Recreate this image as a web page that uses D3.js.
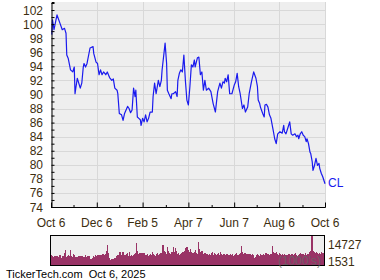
<!DOCTYPE html>
<html><head><meta charset="utf-8">
<script src="https://cdn.jsdelivr.net/npm/d3@7"></script>
<style>body{margin:0;background:#fff}svg{display:block}text{font-family:"Liberation Sans",Arial,sans-serif}</style>
</head><body><svg id="c" width="380" height="280"></svg>
<script>
const priceDates = ["2024-10-07","2024-10-08","2024-10-10","2024-10-14","2024-10-18","2024-10-21","2024-10-24","2024-10-26","2024-10-27","2024-10-29",
"2024-11-01","2024-11-04","2024-11-06","2024-11-07","2024-11-10","2024-11-14","2024-11-16","2024-11-18","2024-11-19","2024-11-21","2024-11-23","2024-11-27",
"2024-12-01","2024-12-02","2024-12-05","2024-12-07","2024-12-09","2024-12-11","2024-12-13","2024-12-15","2024-12-18","2024-12-20","2024-12-23","2024-12-26","2024-12-28","2024-12-30",
"2025-01-02","2025-01-03","2025-01-05","2025-01-08","2025-01-10","2025-01-12","2025-01-16","2025-01-18","2025-01-20","2025-01-22","2025-01-24","2025-01-26","2025-01-27","2025-01-29","2025-01-31",
"2025-02-02","2025-02-03","2025-02-05","2025-02-07","2025-02-09","2025-02-11","2025-02-13","2025-02-15","2025-02-18","2025-02-19","2025-02-21","2025-02-23","2025-02-26","2025-02-28",
"2025-03-02","2025-03-03","2025-03-05","2025-03-07","2025-03-09","2025-03-10","2025-03-12","2025-03-15","2025-03-16","2025-03-18","2025-03-21","2025-03-23","2025-03-24","2025-03-26","2025-03-28","2025-03-30",
"2025-04-01","2025-04-03","2025-04-05","2025-04-07","2025-04-09","2025-04-11","2025-04-13","2025-04-15","2025-04-16","2025-04-19","2025-04-21","2025-04-23","2025-04-25","2025-04-27","2025-04-29",
"2025-05-01","2025-05-04","2025-05-07","2025-05-10","2025-05-13","2025-05-16","2025-05-19","2025-05-21","2025-05-23","2025-05-25","2025-05-26","2025-05-28","2025-05-30",
"2025-06-01","2025-06-04","2025-06-07","2025-06-09","2025-06-11","2025-06-13","2025-06-15","2025-06-18","2025-06-20","2025-06-22","2025-06-25","2025-06-27","2025-06-30",
"2025-07-03","2025-07-06","2025-07-08","2025-07-09","2025-07-11","2025-07-12","2025-07-15","2025-07-17","2025-07-18","2025-07-20","2025-07-22","2025-07-24","2025-07-26","2025-07-29","2025-07-31",
"2025-08-02","2025-08-04","2025-08-07","2025-08-10","2025-08-12","2025-08-13","2025-08-15","2025-08-18","2025-08-20","2025-08-22","2025-08-24","2025-08-27","2025-08-29","2025-08-31",
"2025-09-01","2025-09-03","2025-09-05","2025-09-07","2025-09-09","2025-09-11","2025-09-12","2025-09-14","2025-09-16","2025-09-17","2025-09-19","2025-09-20","2025-09-22","2025-09-24","2025-09-26","2025-09-28","2025-09-29",
"2025-10-01","2025-10-03","2025-10-06"];
const priceValues = [98.5,100.6,99.2,101.3,100.1,99.2,99.4,98.7,95.6,95.1,
93.5,93.2,93.9,90.1,92.3,90.9,91.6,93.9,94.4,93.9,94.4,96.6,
96.8,95.8,94.6,94.4,92.8,93.5,92.8,93.2,92.8,93.2,92.4,92.0,92.2,90.9,
90.6,90.1,87.3,87.1,86.3,87.3,88.3,88.0,87.4,87.8,90.9,89.7,90.6,86.8,86.6,
86.4,85.6,86.6,86.1,87.1,86.1,86.6,87.5,87.5,89.7,91.6,90.1,92.0,91.1,
92.0,93.5,95.4,97.3,94.4,90.6,90.1,89.4,90.1,90.1,90.4,89.7,92.0,93.0,93.5,93.2,
95.6,92.0,89.2,88.5,91.1,94.2,93.9,94.9,93.9,95.2,95.3,92.8,93.2,90.6,92.0,
90.6,90.9,90.4,88.7,87.5,90.4,91.6,90.9,91.8,91.6,92.3,91.8,92.8,
90.1,90.1,91.3,91.8,93.0,91.1,90.1,88.0,88.5,87.5,88.2,90.1,91.8,
93.2,92.3,91.1,89.2,88.7,88.2,87.3,86.8,88.5,88.6,88.2,87.1,86.6,84.9,83.7,
83.0,84.4,84.7,84.5,85.6,84.7,84.4,85.4,86.1,84.4,84.2,84.4,84.0,84.2,
83.7,84.4,84.7,84.2,84.0,83.3,83.7,83.0,81.8,81.6,80.4,79.2,79.9,80.9,79.9,80.2,79.5,
78.8,78.3,77.3];
// daily volume (thousands), trading days from Oct 7 2024, five per week
const volumeStart = "2024-10-07";
const volumeValues = [
5200,4800,4300,4600,4100, 4400,3900,4200,5100,3800, 4500,4700,6200,7400,4300, 4800,5300,4600,7600,4400,
4200,5600,4900,4300,3900, 4100,4500,3800,4700,4400, 3900,4300,5000,4200,4600, 4800,4400,3200,2800,3500,
4600,4100,5200,4500,4900, 4700,5300,4400,5000,5600, 5100,5800,7200,10200,6300, 3600,2600,2800,3300,2900,
3800,3400,4600,4900,5200, 6500,5200,4600,6800,5100, 4900,5400,6100,4800,6700, 4600,5000,4700,5300,5500,
6200,11300,6900,5800,6100, 5400,5900,5200,6000,5100, 5000,5600,4800,5300,5800, 5200,6700,5500,5000,4700,
5400,5900,5100,5600,6300, 6000,10200,7100,6600,5500, 9300,7000,6200,5600,6400, 6800,8900,6500,8500,7200,
5800,6100,5300,5700,5900, 6400,5800,6900,8500,9200, 7800,6700,8100,6500,6000, 5900,6400,7600,6200,5400,
11800,8300,6700,7200,5800, 5600,6100,5300,5800,5000, 5400,4900,5900,6500,5200, 6300,5700,5100,5500,6000,
5300,6600,5600,5000,5400, 4500,5200,5800,4900,5300, 5600,5000,5400,4800,5200, 5500,6100,5300,5000,5700,
6200,9700,6500,5600,6000, 5200,5800,5400,5000,5600, 5100,5600,4900,3800,4200, 5000,5500,5200,4800,5400,
5300,4900,5600,5100,5900, 5000,5400,4700,5200,5600, 9700,6600,5900,6300,6800, 5800,5300,6000,5500,5100,
5400,4900,5700,5200,5000, 5300,5800,5100,4800,5500, 5000,5400,5900,5200,4600, 4900,5600,6100,5400,5800,
5500,5200,5900,5000,5600, 5800,6400,7100,14727,7300, 6500,5900,6800,6200,5600, 6000,5500,6700,5900,6300];
const yTickValues = [74,76,78,80,82,84,86,88,90,92,94,96,98,100,102];
const yMinorValues = [75,77,79,81,83,85,87,89,91,93,95,97,99,101,103];
const xTickDates = ["2024-10-06","2024-12-06","2025-02-05","2025-04-07","2025-06-07","2025-08-06","2025-10-06"];
const xTickLabels = ["Oct 6","Dec 6","Feb 5","Apr 7","Jun 7","Aug 6","Oct 6"];
const xMinorDates = ["2024-11-05","2025-01-05","2025-03-08","2025-05-08","2025-07-07","2025-09-06"];
const volumeLabels = ["14727","1531"];
const symbol = "CL";
const footer = "TickerTech.com  Oct 6, 2025";

const parse = d3.timeParse("%Y-%m-%d");
const svg = d3.select("#c");
const txt = "#3d2e0f";
const L = 51, R = 325, T = 2, B = 207;
const x = d3.scaleTime().domain([parse("2024-10-06"), parse("2025-10-06")]).range([L, R]);
const y = d3.scaleLinear().domain([74, 103.14]).range([B, T]);

svg.append("rect").attr("x", L).attr("y", T).attr("width", R - L).attr("height", B - T).attr("fill", "#eeeeee");
// grid
svg.append("g").selectAll("line").data(yTickValues.slice(1)).join("line")
  .attr("x1", L).attr("x2", R).attr("y1", d => Math.round(y(d)) + 0.5).attr("y2", d => Math.round(y(d)) + 0.5)
  .attr("stroke", "#d8d8d8").attr("stroke-width", 1);
svg.append("g").selectAll("line").data(xTickDates.slice(1)).join("line")
  .attr("y1", T).attr("y2", B).attr("x1", d => Math.round(x(parse(d))) + 0.5).attr("x2", d => Math.round(x(parse(d))) + 0.5)
  .attr("stroke", "#d8d8d8").attr("stroke-width", 1);

// line
const line = d3.line().x((d, i) => x(parse(priceDates[i]))).y(d => y(d));
svg.append("path").datum(priceValues).attr("d", line).attr("fill", "none")
  .attr("stroke", "#1a1aee").attr("stroke-width", 1.2).attr("stroke-linejoin", "round");

// axes
const yAxis = d3.axisRight(y).tickValues(yTickValues).tickSize(3).tickFormat("");
const gy = svg.append("g").attr("transform", `translate(${L + 0.5},0)`).call(yAxis);
const yAxisMinor = d3.axisRight(y).tickValues(yMinorValues.filter(v => v < 103.1)).tickSize(3).tickFormat("");
svg.append("g").attr("transform", `translate(${L + 0.5},0)`).call(yAxisMinor).select(".domain").remove();
gy.select(".domain").attr("stroke", "#000");
svg.append("g").selectAll("text").data(yTickValues).join("text")
  .attr("x", 43).attr("y", d => y(d) + 4.5).attr("text-anchor", "end")
  .attr("font-size", 12).attr("fill", txt).text(d => d);

const xAxis = d3.axisTop(x).tickValues(xTickDates.map(parse)).tickSize(5).tickFormat("");
const gx = svg.append("g").attr("transform", `translate(0,${B + 0.5})`).call(xAxis);
gx.select(".domain").attr("d", `M${L},0H${R + 0.5}`).attr("stroke", "#000");
const xAxisMinor = d3.axisTop(x).tickValues(xMinorDates.map(parse)).tickSize(2.5).tickFormat("");
svg.append("g").attr("transform", `translate(0,${B + 0.5})`).call(xAxisMinor).select(".domain").remove();
svg.selectAll(".tick line").attr("stroke", "#000");
svg.append("g").selectAll("text").data(xTickDates).join("text")
  .attr("x", d => x(parse(d))).attr("y", 227).attr("text-anchor", "middle")
  .attr("font-size", 12).attr("fill", txt).text((d, i) => xTickLabels[i]);

svg.append("text").attr("x", 328).attr("y", 187).attr("font-size", 12).attr("fill", "#1a1aee").text(symbol);

// volume panel
const VT = 236, VB = 265;
const tradingDays = d3.timeDay.range(parse(volumeStart), parse("2025-10-06")).filter(d => d.getDay() > 0 && d.getDay() < 6).slice(0, volumeValues.length);
const vx = d3.scaleBand().domain(tradingDays).range([51, 324]).paddingInner(0);
const vy = d3.scaleLinear().domain([0, 14727]).range([VB, VT]);
svg.append("rect").attr("x", 50.5).attr("y", VT - 0.5).attr("width", 274).attr("height", VB - VT + 1).attr("fill", "#eeeeee");
svg.append("g").attr("shape-rendering", "crispEdges").selectAll("rect").data(volumeValues).join("rect")
  .attr("x", (d, i) => vx(tradingDays[i]))
  .attr("width", vx.bandwidth() + 0.3)
  .attr("y", d => vy(d)).attr("height", d => VB - vy(d)).attr("fill", "#993366");
svg.append("rect").attr("x", 50.5).attr("y", VT - 0.5).attr("width", 274).attr("height", VB - VT + 1).attr("fill", "none").attr("stroke", "#000");
svg.append("text").attr("x", 278).attr("y", 264.5).attr("font-size", 12).attr("fill", "#666").attr("opacity", 0.8).text("(1000's)");
svg.append("text").attr("x", 328).attr("y", 248.5).attr("font-size", 12).attr("fill", txt).text(volumeLabels[0]);
svg.append("text").attr("x", 328).attr("y", 265.5).attr("font-size", 12).attr("fill", txt).text(volumeLabels[1]);

svg.append("text").attr("x", 6).attr("y", 278).attr("font-size", 11).attr("fill", "#000").attr("xml:space", "preserve").style("white-space", "pre").text(footer);
</script></body></html>
